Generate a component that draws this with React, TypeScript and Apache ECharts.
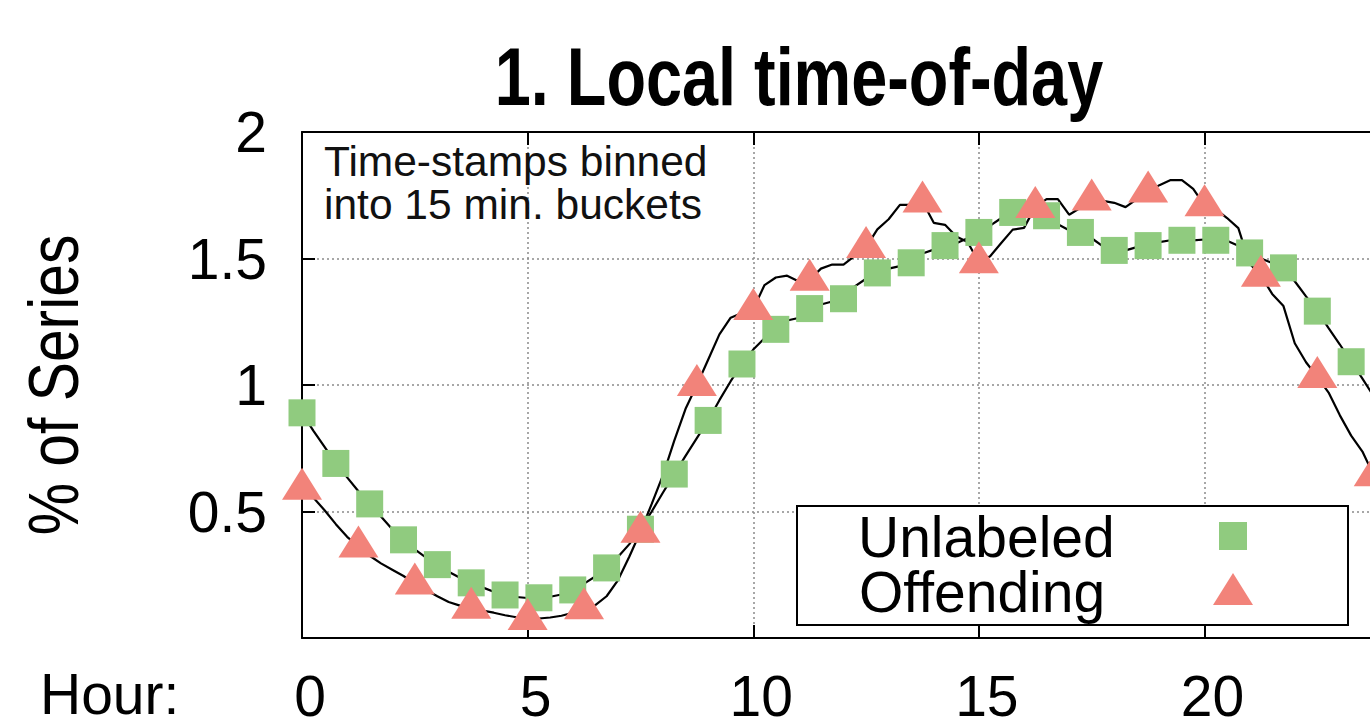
import React, { useEffect, useRef } from 'react';
import * as echarts from 'echarts';

// 15-minute buckets, hour = index / 4
const UNLABELED = [
  0.89, 0.82, 0.755, 0.69, 0.635, 0.58, 0.53, 0.48, 0.43, 0.388, 0.35, 0.318,
  0.29, 0.262, 0.238, 0.218, 0.2, 0.183, 0.17, 0.162, 0.158, 0.159, 0.163, 0.172,
  0.19, 0.215, 0.243, 0.277, 0.32, 0.37, 0.43, 0.5, 0.575, 0.648, 0.72, 0.79,
  0.86, 0.94, 1.015, 1.083, 1.14, 1.185, 1.22, 1.255, 1.265, 1.302, 1.318, 1.33,
  1.341, 1.39, 1.42, 1.443, 1.46, 1.47, 1.483, 1.52, 1.535, 1.551, 1.56, 1.58,
  1.603, 1.63, 1.66, 1.682, 1.685, 1.678, 1.669, 1.635, 1.612, 1.603, 1.58, 1.548,
  1.532, 1.532, 1.545, 1.551, 1.565, 1.572, 1.572, 1.572, 1.575, 1.572, 1.57, 1.55,
  1.522, 1.5, 1.482, 1.463, 1.41, 1.35, 1.292, 1.225, 1.16, 1.092, 1.025, 0.955,
];

const OFFENDING = [
  0.59, 0.555, 0.505, 0.45, 0.4, 0.362, 0.325, 0.295, 0.27, 0.245, 0.215, 0.19,
  0.165, 0.142, 0.128, 0.12, 0.108, 0.1, 0.09, 0.082, 0.075, 0.077, 0.081, 0.088,
  0.1, 0.118, 0.13, 0.165, 0.228, 0.32, 0.42, 0.53, 0.644, 0.78, 0.906, 1.0,
  1.1, 1.2, 1.266, 1.285, 1.3, 1.395, 1.425, 1.432, 1.41, 1.416, 1.46, 1.476,
  1.476, 1.51, 1.545, 1.615, 1.655, 1.712, 1.712, 1.725, 1.641, 1.633, 1.587, 1.565,
  1.485, 1.509, 1.562, 1.614, 1.621, 1.704, 1.735, 1.735, 1.673, 1.7, 1.733, 1.728,
  1.72, 1.703, 1.735, 1.765, 1.79, 1.81, 1.81, 1.775, 1.71, 1.695, 1.66, 1.62,
  1.48, 1.432, 1.36, 1.312, 1.165, 1.09, 1.032, 0.97, 0.88, 0.8, 0.737, 0.643,
];

const BUCKETS_PER_HOUR = 4;
const UNLABELED_MARK_EVERY = 3;
const OFFENDING_MARK_EVERY = 5;
const X_TICKS = [0, 5, 10, 15, 20];
const Y_TICKS = [0.5, 1, 1.5, 2];
const SERIES_NAMES = ['Unlabeled', 'Offending'];
const TITLE = '1. Local time-of-day';
const NOTE_LINES = ['Time-stamps binned', 'into 15 min. buckets'];
const Y_NAME = '% of Series';
const X_NAME = 'Hour:';

const FONT = '"Liberation Sans", Arial, Helvetica, sans-serif';
const GREEN = '#90cb7f';
const SALMON = '#f2837a';

const toPairs = (vals: number[]) => vals.map((v, i) => [i / BUCKETS_PER_HOUR, v]);
const every = (pairs: number[][], n: number) => pairs.filter((_, i) => i % n === 0);

function txt(text: string, x: number, y: number, size: number, extra: any = {}, style: any = {}) {
  return {
    type: 'text',
    x,
    y,
    z: 100,
    silent: true,
    ...extra,
    style: {
      text,
      fill: '#000',
      fontSize: size,
      fontFamily: FONT,
      lineHeight: Math.round(size * 0.8),
      textAlign: 'left',
      align: 'left',
      textVerticalAlign: 'middle',
      verticalAlign: 'middle',
      ...style,
    },
  };
}

export default function App() {
  const ref = useRef<HTMLDivElement>(null);

  useEffect(() => {
    if (!ref.current) return;
    const chart = echarts.init(ref.current, null, { renderer: 'svg' });
    const uPairs = toPairs(UNLABELED);
    const oPairs = toPairs(OFFENDING);

    const axisLine = { show: true, onZero: false, lineStyle: { color: '#000', width: 2 } };
    const tick = { show: true, inside: true, length: 13, lineStyle: { color: '#000', width: 2 } };
    const grid = { show: true, lineStyle: { color: '#8a8a8a', width: 1.5, type: [2, 3] } };

    const option: any = {
      animation: false,
      backgroundColor: '#fff',
      grid: { left: 302, top: 132, width: 1083, height: 506, containLabel: false, outerBoundsMode: 'none' },
      xAxis: [
        {
          type: 'value', min: 0, max: 24, interval: 5, position: 'bottom',
          axisLine, axisTick: tick,
          axisLabel: {
            show: true, margin: 36, color: '#000', fontSize: 57, fontFamily: FONT, lineHeight: 44,
            padding: [0, 0, 0, 16],
            formatter: (v: number) => (X_TICKS.includes(v) ? String(v) : ''),
          },
          splitLine: grid,
        },
        {
          type: 'value', min: 0, max: 24, interval: 5, position: 'top',
          axisLine, axisTick: tick, axisLabel: { show: false }, splitLine: { show: false },
        },
      ],
      yAxis: {
        type: 'value', min: 0, max: 2, interval: 0.5,
        axisLine, axisTick: tick,
        axisLabel: {
          show: true, margin: 35, color: '#000', fontSize: 57, fontFamily: FONT, lineHeight: 46,
          formatter: (v: number) => (Y_TICKS.includes(v) ? String(v) : ''),
        },
        splitLine: grid,
      },
      series: [
        {
          type: 'line', name: SERIES_NAMES[0] + ' line', data: uPairs, showSymbol: false, symbol: 'none',
          lineStyle: { color: '#000', width: 2.2 }, z: 2, silent: true,
        },
        {
          type: 'line', name: SERIES_NAMES[1] + ' line', data: oPairs, showSymbol: false, symbol: 'none',
          lineStyle: { color: '#000', width: 2.2 }, z: 2, silent: true,
        },
        {
          type: 'scatter', name: SERIES_NAMES[0], data: every(uPairs, UNLABELED_MARK_EVERY),
          symbol: 'rect', symbolSize: 27, itemStyle: { color: GREEN, opacity: 1 }, z: 3, silent: true,
        },
        {
          type: 'scatter', name: SERIES_NAMES[1], data: every(oPairs, OFFENDING_MARK_EVERY),
          symbol: 'triangle', symbolSize: [40, 32], symbolOffset: [0, -5],
          itemStyle: { color: SALMON, opacity: 1 }, z: 4, silent: true,
        },
      ],
      graphic: [
        txt(TITLE, 799, 77, 81, { scaleX: 0.8 }, { fontWeight: 'bold', textAlign: 'center', align: 'center' }),
        txt(NOTE_LINES[0], 324, 161, 42.5, {}, { fill: '#111' }),
        txt(NOTE_LINES[1], 324, 204, 42.5, {}, { fill: '#111' }),
        txt(Y_NAME, 54, 385, 70, { rotation: Math.PI / 2, scaleX: 0.84 }, { textAlign: 'center', align: 'center' }),
        txt(X_NAME, 40, 694, 57),
        {
          type: 'rect', z: 90, silent: true,
          shape: { x: 797, y: 506, width: 551, height: 119 },
          style: { fill: '#fff', stroke: '#000', lineWidth: 2 },
        },
        txt(SERIES_NAMES[0], 858, 537, 57),
        txt(SERIES_NAMES[1], 859, 592, 57),
        {
          type: 'rect', z: 100, silent: true,
          shape: { x: 1219, y: 522, width: 28, height: 28 },
          style: { fill: GREEN },
        },
        {
          type: 'polygon', z: 100, silent: true,
          shape: { points: [[1213, 605], [1253, 605], [1233, 573]] },
          style: { fill: SALMON },
        },
      ],
    };

    chart.setOption(option);
    return () => chart.dispose();
  }, []);

  return (
    <div
      ref={ref}
      style={{ position: 'fixed', left: 0, top: 0, width: 1370, height: 720, background: '#fff' }}
    />
  );
}
